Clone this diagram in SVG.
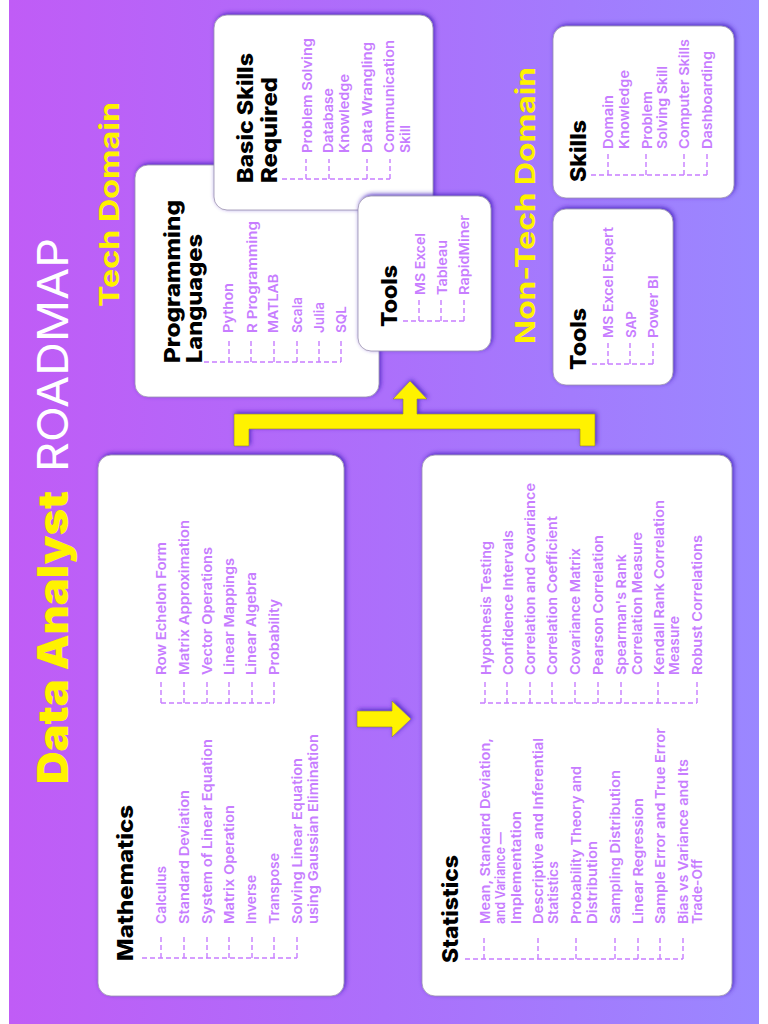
<svg xmlns="http://www.w3.org/2000/svg" width="768" height="1024" viewBox="0 0 768 1024">
<style>
text{font-family:Inter,"Liberation Sans",sans-serif}
.card{fill:#fff;stroke:#9a8fb0;stroke-width:.8;filter:url(#sh)}
.t{font-size:22px;font-weight:800;fill:#000}
.i{font-size:13.5px;font-weight:600;fill:#c77dff}
.d{fill:none;stroke:#c77dff;stroke-width:1.4;stroke-dasharray:5 3}
.y{fill:#fff200;stroke:#8a7a30;stroke-width:.6;filter:url(#sh)}
.h{font-weight:900;fill:#fff200}
</style>
<defs>
<linearGradient id="bg" x1="0" y1="0" x2="1" y2="0"><stop offset="0" stop-color="#c05cf6"/><stop offset=".5" stop-color="#ac6ffb"/><stop offset="1" stop-color="#9a87ff"/></linearGradient>
<filter id="sh" x="-10%" y="-10%" width="120%" height="120%"><feDropShadow dx="1.5" dy="-1.5" stdDeviation="2" flood-color="#4a22c0" flood-opacity=".9"/></filter>
</defs>
<rect width="768" height="1024" fill="#fff"/>
<rect x="9" y="0" width="750" height="1024" fill="url(#bg)"/>
<g id="title">
<text class="h" font-size="42" transform="translate(68,784) rotate(-90)" textLength="293" lengthAdjust="spacingAndGlyphs">Data Analyst</text>
<text font-size="42" font-weight="400" fill="#fff" transform="translate(68,472) rotate(-90)" textLength="234" lengthAdjust="spacingAndGlyphs">ROADMAP</text>
</g>
<g id="tech-domain"><text class="h" style="font-weight:700" font-size="27" transform="translate(119,307) rotate(-90)" textLength="205" lengthAdjust="spacingAndGlyphs">Tech Domain</text></g>
<g id="non-tech-domain"><text class="h" style="font-weight:700" font-size="27" transform="translate(535,344) rotate(-90)" textLength="277" lengthAdjust="spacingAndGlyphs">Non-Tech Domain</text></g>

<g id="mathematics">
<rect class="card" x="98" y="455" width="246" height="541" rx="13"/>
<text class="t" transform="translate(133,961) rotate(-90)" textLength="156" lengthAdjust="spacingAndGlyphs">Mathematics</text>
<g class="i">
<text transform="translate(166,924) rotate(-90)" textLength="58" lengthAdjust="spacingAndGlyphs">Calculus</text>
<text transform="translate(189,924) rotate(-90)" textLength="134" lengthAdjust="spacingAndGlyphs">Standard Deviation</text>
<text transform="translate(212,924) rotate(-90)" textLength="185" lengthAdjust="spacingAndGlyphs">System of Linear Equation</text>
<text transform="translate(234,924) rotate(-90)" textLength="119" lengthAdjust="spacingAndGlyphs">Matrix Operation</text>
<text transform="translate(256,924) rotate(-90)" textLength="49" lengthAdjust="spacingAndGlyphs">Inverse</text>
<text transform="translate(279,924) rotate(-90)" textLength="71" lengthAdjust="spacingAndGlyphs">Transpose</text>
<text transform="translate(302,924) rotate(-90)" textLength="166" lengthAdjust="spacingAndGlyphs">Solving Linear Equation</text>
<text transform="translate(318,924) rotate(-90)" textLength="190" lengthAdjust="spacingAndGlyphs">using Gaussian Elimination</text>
<text transform="translate(166,675) rotate(-90)" textLength="133" lengthAdjust="spacingAndGlyphs">Row Echelon Form</text>
<text transform="translate(189,675) rotate(-90)" textLength="155" lengthAdjust="spacingAndGlyphs">Matrix Approximation</text>
<text transform="translate(212,675) rotate(-90)" textLength="128" lengthAdjust="spacingAndGlyphs">Vector Operations</text>
<text transform="translate(234,675) rotate(-90)" textLength="117" lengthAdjust="spacingAndGlyphs">Linear Mappings</text>
<text transform="translate(256,675) rotate(-90)" textLength="103" lengthAdjust="spacingAndGlyphs">Linear Algebra</text>
<text transform="translate(279,675) rotate(-90)" textLength="76" lengthAdjust="spacingAndGlyphs">Probability</text>
</g>
</g>

<g id="statistics">
<rect class="card" x="422" y="455" width="310" height="541" rx="13"/>
<text class="t" transform="translate(458,963) rotate(-90)" textLength="108" lengthAdjust="spacingAndGlyphs">Statistics</text>
<g class="i">
<text transform="translate(490,924) rotate(-90)" textLength="186" lengthAdjust="spacingAndGlyphs">Mean, Standard Deviation,</text>
<text transform="translate(505,924) rotate(-90)" textLength="92" lengthAdjust="spacingAndGlyphs">and Variance —</text>
<text transform="translate(521,924) rotate(-90)" textLength="113" lengthAdjust="spacingAndGlyphs">Implementation</text>
<text transform="translate(543,924) rotate(-90)" textLength="186" lengthAdjust="spacingAndGlyphs">Descriptive and Inferential</text>
<text transform="translate(558,924) rotate(-90)" textLength="63" lengthAdjust="spacingAndGlyphs">Statistics</text>
<text transform="translate(581,924) rotate(-90)" textLength="158" lengthAdjust="spacingAndGlyphs">Probability Theory and</text>
<text transform="translate(597,924) rotate(-90)" textLength="83" lengthAdjust="spacingAndGlyphs">Distribution</text>
<text transform="translate(620,924) rotate(-90)" textLength="154" lengthAdjust="spacingAndGlyphs">Sampling Distribution</text>
<text transform="translate(643,924) rotate(-90)" textLength="126" lengthAdjust="spacingAndGlyphs">Linear Regression</text>
<text transform="translate(665,924) rotate(-90)" textLength="196" lengthAdjust="spacingAndGlyphs">Sample Error and True Error</text>
<text transform="translate(688,924) rotate(-90)" textLength="165" lengthAdjust="spacingAndGlyphs">Bias vs Variance and Its</text>
<text transform="translate(702,924) rotate(-90)" textLength="65" lengthAdjust="spacingAndGlyphs">Trade-Off</text>
<text transform="translate(491,675) rotate(-90)" textLength="134" lengthAdjust="spacingAndGlyphs">Hypothesis Testing</text>
<text transform="translate(513,675) rotate(-90)" textLength="145" lengthAdjust="spacingAndGlyphs">Confidence Intervals</text>
<text transform="translate(535,675) rotate(-90)" textLength="192" lengthAdjust="spacingAndGlyphs">Correlation and Covariance</text>
<text transform="translate(557,675) rotate(-90)" textLength="159" lengthAdjust="spacingAndGlyphs">Correlation Coefficient</text>
<text transform="translate(580,675) rotate(-90)" textLength="127" lengthAdjust="spacingAndGlyphs">Covariance Matrix</text>
<text transform="translate(603,675) rotate(-90)" textLength="140" lengthAdjust="spacingAndGlyphs">Pearson Correlation</text>
<text transform="translate(626,675) rotate(-90)" textLength="121" lengthAdjust="spacingAndGlyphs">Spearman's Rank</text>
<text transform="translate(642,675) rotate(-90)" textLength="143" lengthAdjust="spacingAndGlyphs">Correlation Measure</text>
<text transform="translate(664,675) rotate(-90)" textLength="175" lengthAdjust="spacingAndGlyphs">Kendall Rank Correlation</text>
<text transform="translate(679,675) rotate(-90)" textLength="59" lengthAdjust="spacingAndGlyphs">Measure</text>
<text transform="translate(702,675) rotate(-90)" textLength="140" lengthAdjust="spacingAndGlyphs">Robust Correlations</text>
</g>
</g>

<g id="programming-languages">
<rect class="card" x="135" y="165" width="244" height="232" rx="13"/>
<text class="t" transform="translate(180,363) rotate(-90)" textLength="163" lengthAdjust="spacingAndGlyphs">Programming</text>
<text class="t" transform="translate(202,363) rotate(-90)" textLength="129" lengthAdjust="spacingAndGlyphs">Languages</text>
<g class="i">
<text transform="translate(233,333) rotate(-90)" textLength="50" lengthAdjust="spacingAndGlyphs">Python</text>
<text transform="translate(257,333) rotate(-90)" textLength="112" lengthAdjust="spacingAndGlyphs">R Programming</text>
<text transform="translate(278,333) rotate(-90)" textLength="59" lengthAdjust="spacingAndGlyphs">MATLAB</text>
<text transform="translate(302,333) rotate(-90)" textLength="36" lengthAdjust="spacingAndGlyphs">Scala</text>
<text transform="translate(324,333) rotate(-90)" textLength="31" lengthAdjust="spacingAndGlyphs">Julia</text>
<text transform="translate(346,333) rotate(-90)" textLength="27" lengthAdjust="spacingAndGlyphs">SQL</text>
</g>
</g>

<g id="basic-skills">
<rect class="card" x="214" y="15" width="219" height="195" rx="13"/>
<text class="t" transform="translate(253,183) rotate(-90)" textLength="130" lengthAdjust="spacingAndGlyphs">Basic Skills</text>
<text class="t" transform="translate(277,183) rotate(-90)" textLength="106" lengthAdjust="spacingAndGlyphs">Required</text>
<g class="i">
<text transform="translate(312,153) rotate(-90)" textLength="115" lengthAdjust="spacingAndGlyphs">Problem Solving</text>
<text transform="translate(333,153) rotate(-90)" textLength="65" lengthAdjust="spacingAndGlyphs">Database</text>
<text transform="translate(349,153) rotate(-90)" textLength="79" lengthAdjust="spacingAndGlyphs">Knowledge</text>
<text transform="translate(372,153) rotate(-90)" textLength="111" lengthAdjust="spacingAndGlyphs">Data Wrangling</text>
<text transform="translate(394,153) rotate(-90)" textLength="113" lengthAdjust="spacingAndGlyphs">Communication</text>
<text transform="translate(410,153) rotate(-90)" textLength="28" lengthAdjust="spacingAndGlyphs">Skill</text>
</g>
</g>

<g id="tech-tools">
<rect class="card" x="358" y="196" width="133" height="155" rx="13"/>
<text class="t" transform="translate(397,327) rotate(-90)" textLength="62" lengthAdjust="spacingAndGlyphs">Tools</text>
<g class="i">
<text transform="translate(425,295) rotate(-90)" textLength="62" lengthAdjust="spacingAndGlyphs">MS Excel</text>
<text transform="translate(447,295) rotate(-90)" textLength="55" lengthAdjust="spacingAndGlyphs">Tableau</text>
<text transform="translate(469,295) rotate(-90)" textLength="80" lengthAdjust="spacingAndGlyphs">RapidMiner</text>
</g>
</g>

<g id="non-tech-skills">
<rect class="card" x="553" y="26" width="181" height="172" rx="13"/>
<text class="t" transform="translate(586,182) rotate(-90)" textLength="62" lengthAdjust="spacingAndGlyphs">Skills</text>
<g class="i">
<text transform="translate(613,149) rotate(-90)" textLength="54" lengthAdjust="spacingAndGlyphs">Domain</text>
<text transform="translate(629,149) rotate(-90)" textLength="79" lengthAdjust="spacingAndGlyphs">Knowledge</text>
<text transform="translate(652,149) rotate(-90)" textLength="58" lengthAdjust="spacingAndGlyphs">Problem</text>
<text transform="translate(667,149) rotate(-90)" textLength="83" lengthAdjust="spacingAndGlyphs">Solving Skill</text>
<text transform="translate(689,149) rotate(-90)" textLength="110" lengthAdjust="spacingAndGlyphs">Computer Skills</text>
<text transform="translate(712,149) rotate(-90)" textLength="98" lengthAdjust="spacingAndGlyphs">Dashboarding</text>
</g>
</g>

<g id="non-tech-tools">
<rect class="card" x="553" y="209" width="120" height="176" rx="13"/>
<text class="t" transform="translate(586,370) rotate(-90)" textLength="62" lengthAdjust="spacingAndGlyphs">Tools</text>
<g class="i">
<text transform="translate(613,338) rotate(-90)" textLength="111" lengthAdjust="spacingAndGlyphs">MS Excel Expert</text>
<text transform="translate(636,338) rotate(-90)" textLength="27" lengthAdjust="spacingAndGlyphs">SAP</text>
<text transform="translate(658,338) rotate(-90)" textLength="63" lengthAdjust="spacingAndGlyphs">Power BI</text>
</g>
</g>

<g id="connectors">
<g class="d">
<path d="M142 958H297M161 958V936M184 958V936M207 958V936M229 958V936M252 958V936M274 958V936M297 958V936"/>
<path d="M161 703H274M161 703V682M184 703V682M207 703V682M229 703V682M252 703V682M274 703V682"/>
<path d="M465 959H683M484 959V936M538 959V936M576 959V936M615 959V936M638 959V936M660 959V936M683 959V936"/>
<path d="M480 703H697M485 703V682M507 703V682M530 703V682M552 703V682M575 703V682M598 703V682M621 703V682M658 703V682M697 703V682"/>
<path d="M204 362H341M229 362V340M251 362V340M274 362V340M297 362V340M319 362V340M341 362V340"/>
<path d="M282 179H390M306 179V159M329 179V159M367 179V159M390 179V159"/>
<path d="M403 321H464M419 321V300M441 321V300M464 321V300"/>
<path d="M591 175H707M608 175V153M646 175V153M684 175V153M707 175V153"/>
<path d="M592 364H653M608 364V343M630 364V343M653 364V343"/>
</g>
<path class="y" d="M234 446V414H403V399H393L410 381L427 399H417V414H595V446H580V429H249V446Z"/>
<path class="y" d="M357 711H392V701L411 719L392 737V727H357Z"/>
</g>
</svg>
